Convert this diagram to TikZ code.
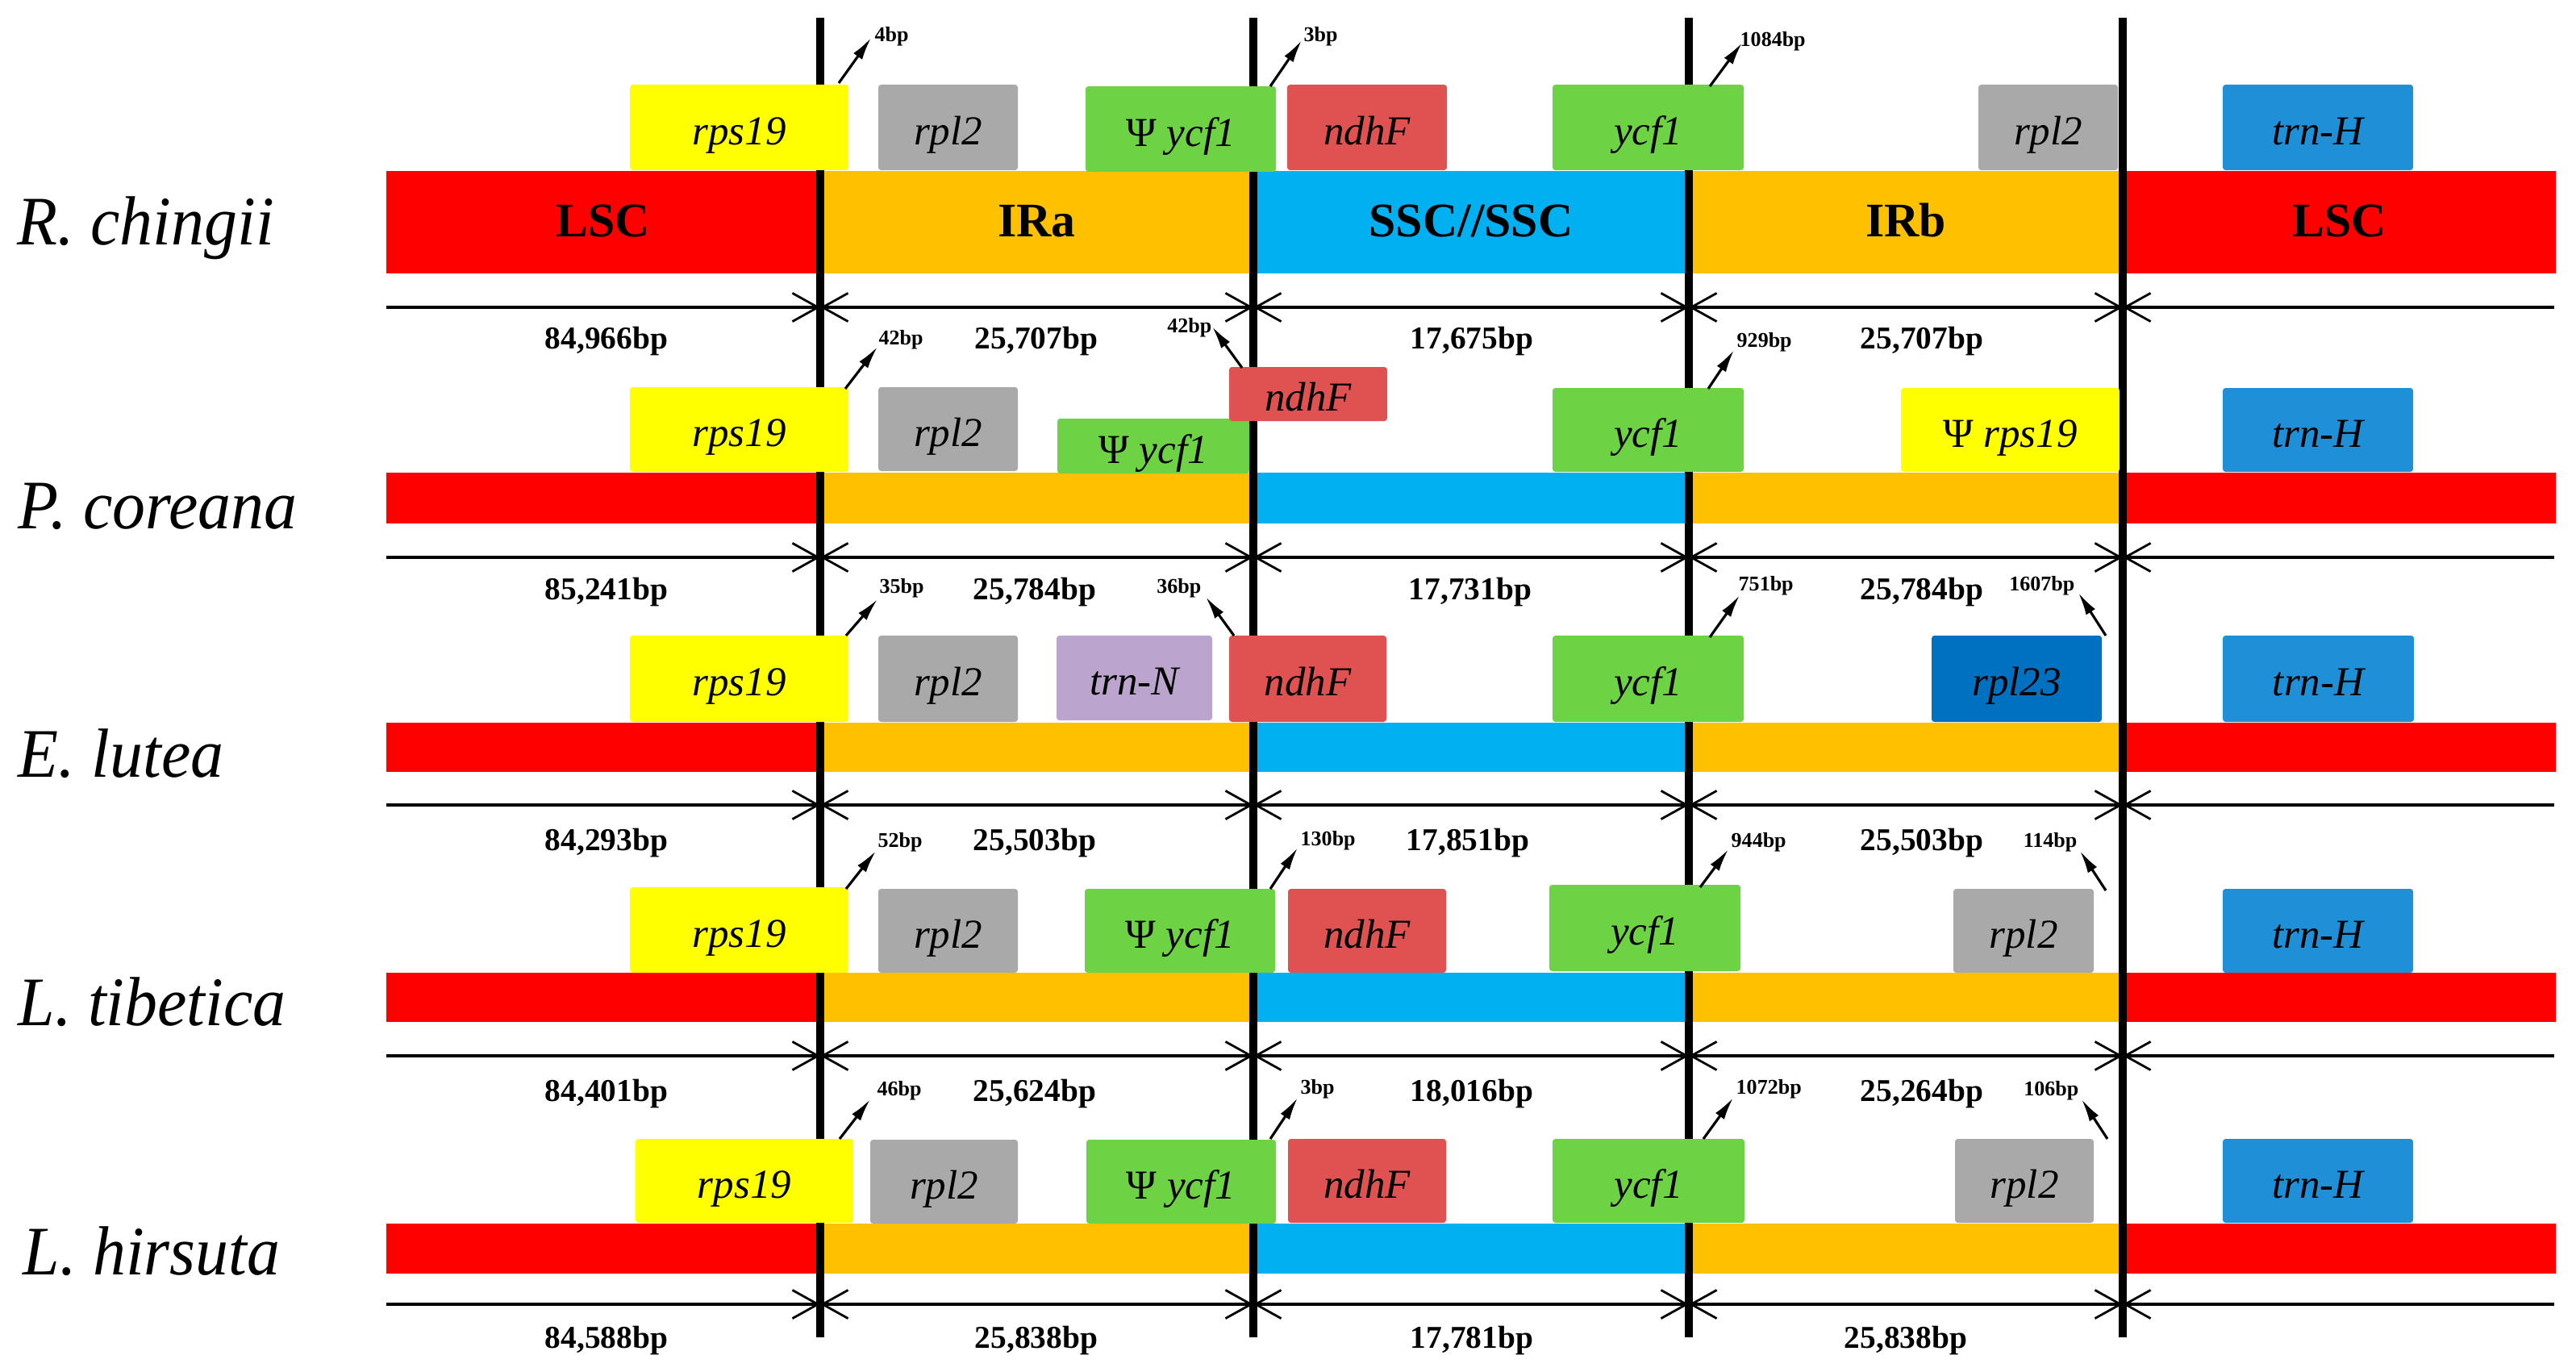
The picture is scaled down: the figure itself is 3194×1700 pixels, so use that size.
\documentclass[tikz,border=0pt]{standalone}
\usepackage{fontspec}
\setmainfont{Liberation Serif}
\usetikzlibrary{arrows.meta}
\definecolor{lscred}{HTML}{FF0000}
\definecolor{irorange}{HTML}{FFC000}
\definecolor{sscblue}{HTML}{00B0F0}
\definecolor{gyellow}{HTML}{FFFF00}
\definecolor{ggray}{HTML}{A9A9A9}
\definecolor{ggreen}{HTML}{6DD244}
\definecolor{gndhf}{HTML}{E05252}
\definecolor{gtrnh}{HTML}{1F8FD8}
\definecolor{grpl}{HTML}{0070C0}
\definecolor{gtrnn}{HTML}{BBA5CE}
\newcommand\genefont{\fontsize{14.5pt}{16pt}\selectfont\itshape}
\newcommand\regfont{\fontsize{17pt}{19pt}\selectfont\bfseries}
\newcommand\bpfont{\fontsize{11.2pt}{12pt}\selectfont\bfseries}
\newcommand\sbpfont{\fontsize{7.4pt}{8pt}\selectfont\bfseries}
\newcommand\spfont{\fontsize{24.5pt}{28pt}\selectfont\itshape}
\newcommand\pseudo{\textup{Ψ}\ }
\newcommand\spname[1]{\scalebox{0.95}[1]{#1}}
% name, x1, x2, y1, y2, colour, text
\newcommand\gbox[7]{\node[gene,fill=#6,minimum width={(#3-#2)*0.01cm},minimum height={(#5-#4)*0.01cm}] (#1) at ({(#2+#3)/2},{(#4+#5)/2}) {#7};}
\newcommand\rbox[7]{\node[bar,fill=#6,minimum width={(#3-#2)*0.01cm},minimum height={(#5-#4)*0.01cm}] (#1) at ({(#2+#3)/2},{(#4+#5)/2}) {#7};}
\begin{document}
\begin{tikzpicture}[x=0.01cm,y=-0.01cm,
  gene/.style={draw=none,rounded corners=1pt,inner sep=0pt,outer sep=0pt,font=\genefont,text height=12pt,text depth=0pt},
  bar/.style={draw=none,inner sep=0pt,outer sep=0pt,font=\regfont,text height=10pt,text depth=0pt},
  vline/.style={line width=2.6pt},
  scl/.style={line width=1.3pt},
  barb/.tip={Straight Barb[length=9pt,width=10pt,line width=0.8pt]},
  sarrow/.style={line width=0.9pt,-{Latex[length=8pt,width=3.8pt]}},
  bpl/.style={font=\bpfont,inner sep=0pt,anchor=base},
  sbpw/.style={font=\sbpfont,inner sep=0pt,anchor=base west},
  sbpe/.style={font=\sbpfont,inner sep=0pt,anchor=base east},
  species/.style={font=\spfont,inner sep=0pt,anchor=base west}]
\useasboundingbox (0,0) rectangle (3194,1700);

% ---------- region bars ----------
\rbox{r1lsc}{479}{1017}{212}{339}{lscred}{LSC}
\rbox{r1ira}{1017}{1554}{212}{339}{irorange}{IRa}
\rbox{r1ssc}{1554}{2094}{212}{339}{sscblue}{SSC//SSC}
\rbox{r1irb}{2094}{2632}{212}{339}{irorange}{IRb}
\rbox{r1lscb}{2632}{3169}{212}{339}{lscred}{LSC}
\foreach \r/\ya/\yb in {2/586/649,3/896/957,4/1206/1267,5/1517/1579}{
  \rbox{r\r lsc}{479}{1017}{\ya}{\yb}{lscred}{}
  \rbox{r\r ira}{1017}{1554}{\ya}{\yb}{irorange}{}
  \rbox{r\r ssc}{1554}{2094}{\ya}{\yb}{sscblue}{}
  \rbox{r\r irb}{2094}{2632}{\ya}{\yb}{irorange}{}
  \rbox{r\r lscb}{2632}{3169}{\ya}{\yb}{lscred}{}
}

% ---------- scale lines ----------
\foreach \r/\y in {1/381,2/691,3/998,4/1309,5/1617}{
  \coordinate (s\r a) at (479,\y);
  \coordinate (s\r b) at (1017,\y);
  \coordinate (s\r c) at (1554,\y);
  \coordinate (s\r d) at (2094,\y);
  \coordinate (s\r e) at (2632,\y);
  \coordinate (s\r f) at (3167,\y);
  \draw[scl,-barb] (s\r a) -- (s\r b);
  \draw[scl,barb-barb] (s\r b) -- (s\r c);
  \draw[scl,barb-barb] (s\r c) -- (s\r d);
  \draw[scl,barb-barb] (s\r d) -- (s\r e);
  \draw[scl,barb-] (s\r e) -- (s\r f);
}

% ---------- vertical boundary lines ----------
\foreach \i/\x in {1/1017,2/1554,3/2094,4/2632}{
  \coordinate (vt\i) at (\x,22);
  \coordinate (vb\i) at (\x,1658);
  \draw[vline] (vt\i) -- (vb\i);
}

% ---------- genes row 1 ----------
\gbox{g1a}{781}{1052}{105}{211}{gyellow}{rps19}
\gbox{g1b}{1089}{1262}{105}{211}{ggray}{rpl2}
\gbox{g1c}{1346}{1582}{107}{213}{ggreen}{\pseudo ycf1}
\gbox{g1d}{1596}{1794}{105}{211}{gndhf}{ndhF}
\gbox{g1e}{1925}{2162}{105}{211}{ggreen}{ycf1}
\gbox{g1f}{2453}{2626}{105}{211}{ggray}{rpl2}
\gbox{g1g}{2756}{2992}{105}{211}{gtrnh}{trn-H}
% ---------- genes row 2 ----------
\gbox{g2a}{781}{1052}{480}{585}{gyellow}{rps19}
\gbox{g2b}{1089}{1262}{480}{584}{ggray}{rpl2}
\gbox{g2c}{1311}{1549}{519}{587}{ggreen}{\pseudo ycf1}
\gbox{g2d}{1524}{1720}{455}{522}{gndhf}{ndhF}
\gbox{g2e}{1925}{2162}{481}{585}{ggreen}{ycf1}
\gbox{g2f}{2357}{2628}{481}{585}{gyellow}{\pseudo rps19}
\gbox{g2g}{2756}{2992}{481}{585}{gtrnh}{trn-H}
% ---------- genes row 3 ----------
\gbox{g3a}{781}{1052}{788}{895}{gyellow}{rps19}
\gbox{g3b}{1089}{1262}{788}{895}{ggray}{rpl2}
\gbox{g3c}{1310}{1503}{788}{893}{gtrnn}{trn-N}
\gbox{g3d}{1524}{1719}{788}{895}{gndhf}{ndhF}
\gbox{g3e}{1925}{2162}{788}{895}{ggreen}{ycf1}
\gbox{g3f}{2395}{2606}{788}{895}{grpl}{rpl23}
\gbox{g3g}{2756}{2993}{788}{895}{gtrnh}{trn-H}
% ---------- genes row 4 ----------
\gbox{g4a}{781}{1052}{1100}{1206}{gyellow}{rps19}
\gbox{g4b}{1089}{1262}{1102}{1206}{ggray}{rpl2}
\gbox{g4c}{1345}{1581}{1102}{1206}{ggreen}{\pseudo ycf1}
\gbox{g4d}{1597}{1793}{1102}{1206}{gndhf}{ndhF}
\gbox{g4e}{1921}{2158}{1097}{1204}{ggreen}{ycf1}
\gbox{g4f}{2422}{2596}{1102}{1206}{ggray}{rpl2}
\gbox{g4g}{2756}{2992}{1102}{1206}{gtrnh}{trn-H}
% ---------- genes row 5 ----------
\gbox{g5a}{788}{1058}{1412}{1516}{gyellow}{rps19}
\gbox{g5b}{1079}{1262}{1413}{1517}{ggray}{rpl2}
\gbox{g5c}{1347}{1582}{1413}{1517}{ggreen}{\pseudo ycf1}
\gbox{g5d}{1597}{1793}{1412}{1516}{gndhf}{ndhF}
\gbox{g5e}{1925}{2163}{1412}{1516}{ggreen}{ycf1}
\gbox{g5f}{2424}{2596}{1412}{1516}{ggray}{rpl2}
\gbox{g5g}{2756}{2992}{1412}{1516}{gtrnh}{trn-H}

% ---------- small arrows and labels ----------
% row 1
\coordinate (t1a) at (1040,103); \coordinate (h1a) at (1080,47);
\draw[sarrow] (t1a) -- (h1a); \node[sbpw] (l1a) at (1084,52) {4bp};
\coordinate (t1b) at (1575,107); \coordinate (h1b) at (1614,50);
\draw[sarrow] (t1b) -- (h1b); \node[sbpw] (l1b) at (1616,52) {3bp};
\coordinate (t1c) at (2120,107); \coordinate (h1c) at (2160,53);
\draw[sarrow] (t1c) -- (h1c); \node[sbpw] (l1c) at (2157,58) {1084bp};
% row 2
\coordinate (t2a) at (1048,482); \coordinate (h2a) at (1088,430);
\draw[sarrow] (t2a) -- (h2a); \node[sbpw] (l2a) at (1089,427) {42bp};
\coordinate (t2b) at (1540,456); \coordinate (h2b) at (1503,405);
\draw[sarrow] (t2b) -- (h2b); \node[sbpe] (l2b) at (1503,412) {42bp};
\coordinate (t2c) at (2118,482); \coordinate (h2c) at (2150,434);
\draw[sarrow] (t2c) -- (h2c); \node[sbpw] (l2c) at (2153,430) {929bp};
% row 3
\coordinate (t3a) at (1049,788); \coordinate (h3a) at (1088,743);
\draw[sarrow] (t3a) -- (h3a); \node[sbpw] (l3a) at (1090,735) {35bp};
\coordinate (t3b) at (1530,788); \coordinate (h3b) at (1495,740);
\draw[sarrow] (t3b) -- (h3b); \node[sbpe] (l3b) at (1490,735) {36bp};
\coordinate (t3c) at (2120,790); \coordinate (h3c) at (2157,738);
\draw[sarrow] (t3c) -- (h3c); \node[sbpw] (l3c) at (2155,732) {751bp};
\coordinate (t3d) at (2611,788); \coordinate (h3d) at (2577,735);
\draw[sarrow] (t3d) -- (h3d); \node[sbpe] (l3d) at (2573,732) {1607bp};
% row 4
\coordinate (t4a) at (1049,1102); \coordinate (h4a) at (1086,1055);
\draw[sarrow] (t4a) -- (h4a); \node[sbpw] (l4a) at (1088,1050) {52bp};
\coordinate (t4b) at (1575,1102); \coordinate (h4b) at (1609,1051);
\draw[sarrow] (t4b) -- (h4b); \node[sbpw] (l4b) at (1612,1048) {130bp};
\coordinate (t4c) at (2108,1100); \coordinate (h4c) at (2143,1053);
\draw[sarrow] (t4c) -- (h4c); \node[sbpw] (l4c) at (2146,1050) {944bp};
\coordinate (t4d) at (2611,1104); \coordinate (h4d) at (2579,1055);
\draw[sarrow] (t4d) -- (h4d); \node[sbpe] (l4d) at (2576,1050) {114bp};
% row 5
\coordinate (t5a) at (1041,1412); \coordinate (h5a) at (1079,1363);
\draw[sarrow] (t5a) -- (h5a); \node[sbpw] (l5a) at (1087,1358) {46bp};
\coordinate (t5b) at (1575,1412); \coordinate (h5b) at (1609,1361);
\draw[sarrow] (t5b) -- (h5b); \node[sbpw] (l5b) at (1612,1356) {3bp};
\coordinate (t5c) at (2112,1412); \coordinate (h5c) at (2149,1361);
\draw[sarrow] (t5c) -- (h5c); \node[sbpw] (l5c) at (2152,1356) {1072bp};
\coordinate (t5d) at (2613,1412); \coordinate (h5d) at (2581,1363);
\draw[sarrow] (t5d) -- (h5d); \node[sbpe] (l5d) at (2578,1358) {106bp};

% ---------- length labels ----------
\node[bpl] (b1a) at (752,432) {84,966bp};
\node[bpl] (b1b) at (1285,432) {25,707bp};
\node[bpl] (b1c) at (1825,432) {17,675bp};
\node[bpl] (b1d) at (2383,432) {25,707bp};
\node[bpl] (b2a) at (752,743) {85,241bp};
\node[bpl] (b2b) at (1283,743) {25,784bp};
\node[bpl] (b2c) at (1823,743) {17,731bp};
\node[bpl] (b2d) at (2383,743) {25,784bp};
\node[bpl] (b3a) at (752,1054) {84,293bp};
\node[bpl] (b3b) at (1283,1054) {25,503bp};
\node[bpl] (b3c) at (1820,1054) {17,851bp};
\node[bpl] (b3d) at (2383,1054) {25,503bp};
\node[bpl] (b4a) at (752,1365) {84,401bp};
\node[bpl] (b4b) at (1283,1365) {25,624bp};
\node[bpl] (b4c) at (1825,1365) {18,016bp};
\node[bpl] (b4d) at (2383,1365) {25,264bp};
\node[bpl] (b5a) at (752,1671) {84,588bp};
\node[bpl] (b5b) at (1285,1671) {25,838bp};
\node[bpl] (b5c) at (1825,1671) {17,781bp};
\node[bpl] (b5d) at (2363,1671) {25,838bp};

% ---------- species ----------
\node[species] (sp1) at (21,304) {\spname{R. chingii}};
\node[species] (sp2) at (22,655) {\spname{P. coreana}};
\node[species] (sp3) at (22,963) {\spname{E. lutea}};
\node[species] (sp4) at (22,1271) {\spname{L. tibetica}};
\node[species] (sp5) at (28,1580) {\spname{L. hirsuta}};
\end{tikzpicture}
\end{document}
